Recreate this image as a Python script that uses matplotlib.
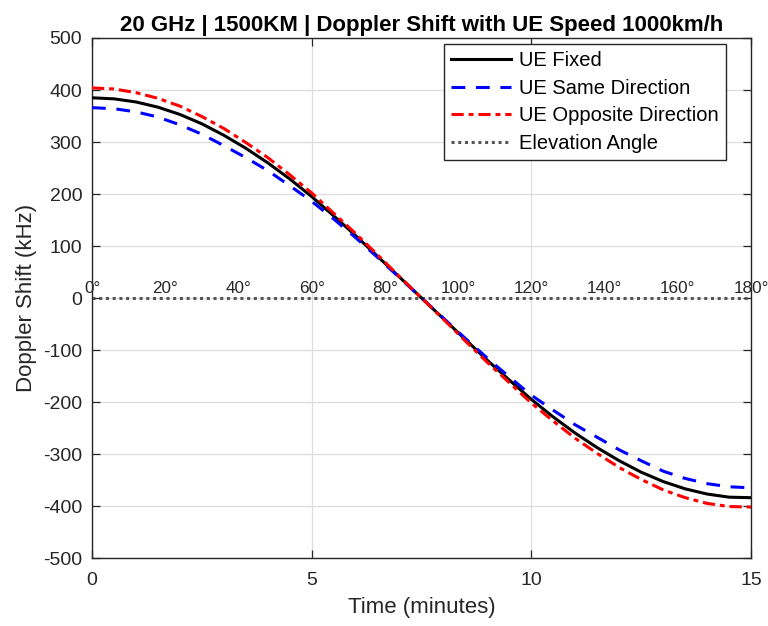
import matplotlib
matplotlib.use("Agg")
import matplotlib.pyplot as plt

plt.rcParams['font.family'] = ['Liberation Sans', 'DejaVu Sans']
plt.rcParams['axes.unicode_minus'] = False

# Time (minutes)
time_min = [0, 0.5, 1, 1.5, 2, 2.5, 3, 3.5, 4, 4.5, 5, 5.5, 6, 6.5, 7, 7.5,
            8, 8.5, 9, 9.5, 10, 10.5, 11, 11.5, 12, 12.5, 13, 13.5, 14, 14.5, 15]

# Doppler shift (kHz)
ue_fixed = [385, 383, 377, 367, 353, 335, 313, 288, 260, 229, 195, 158, 120, 80, 40, 0,
            -40, -80, -120, -158, -195, -229, -260, -288, -313, -335, -353, -367, -377, -383, -384]
ue_same = [366, 364, 358, 348, 333, 315, 293, 270, 245, 216, 186, 152, 116, 78, 39, 0,
           -39, -78, -116, -152, -187, -216, -244, -268, -292, -313, -333, -347, -357, -363, -365]
ue_opposite = [404, 402, 395, 384, 369, 349, 326, 299, 270, 237, 202, 163, 124, 83, 41, 0,
               -41, -83, -124, -163, -202, -237, -270, -299, -326, -349, -369, -384, -395, -401, -402]

elev_angles = [0, 20, 40, 60, 80, 100, 120, 140, 160, 180]
elev_time = [0, 15]
elev_level = [0, 0]

xticks = [0, 5, 10, 15]
yticks = [-500, -400, -300, -200, -100, 0, 100, 200, 300, 400, 500]

fig = plt.figure(figsize=(7.68, 6.26), dpi=100)
ax = fig.add_axes([0.1198, 0.1086, 0.8582, 0.8307])

ax.plot(time_min, ue_fixed, color='black', lw=2.2, label='UE Fixed', zorder=3)
ax.plot(time_min, ue_same, color='blue', lw=2.2, dashes=(4.5, 3.5), label='UE Same Direction', zorder=3)
ax.plot(time_min, ue_opposite, color='red', lw=2.2, dashes=(4, 1.6, 1.6, 1.6), label='UE Opposite Direction', zorder=3)
ax.plot(elev_time, elev_level, color='#555555', lw=2.2, dashes=(1, 1.2), label='Elevation Angle', zorder=2)

for a in elev_angles:
    ax.text(a / 180 * 15, 4, f'{a}°', ha='center', va='bottom', fontsize=12.3,
            color='#262626', clip_on=False, zorder=4)

ax.set_xlim(0, 15)
ax.set_ylim(-500, 500)
ax.set_xticks(xticks)
ax.set_yticks(yticks)
ax.tick_params(axis='both', direction='in', labelsize=14, top=True, right=True, length=6,
               width=0.9, colors='#262626')
ax.tick_params(axis='x', pad=10)
ax.tick_params(axis='y', pad=7)
ax.grid(True, color='#dddddd', lw=0.9)
ax.set_axisbelow(True)
for s in ax.spines.values():
    s.set_linewidth(1.0)
    s.set_color('#262626')

ax.set_xlabel('Time (minutes)', fontsize=16, color='#262626', labelpad=6)
ax.set_ylabel('Doppler Shift (kHz)', fontsize=16, color='#262626', labelpad=4)
ax.set_title('20 GHz | 1500KM | Doppler Shift with UE Speed 1000km/h', fontsize=16,
             fontweight='bold', pad=5)

leg = ax.legend(loc='upper right', fontsize=14.5, handlelength=3.0, frameon=True, fancybox=False,
                edgecolor='#262626', framealpha=1, borderpad=0.35, labelspacing=0.42,
                handletextpad=0.4, borderaxespad=0, bbox_to_anchor=(0.962, 0.988))
leg.get_frame().set_linewidth(1.0)

fig.savefig('out.png', dpi=100)
